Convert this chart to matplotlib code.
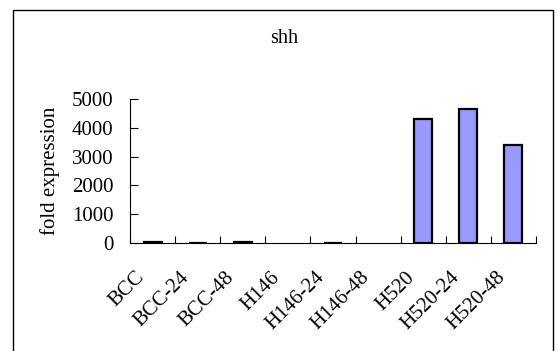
import matplotlib.pyplot as plt
from matplotlib.patches import Rectangle
from matplotlib.transforms import ScaledTranslation
import numpy as np

samples = ['BCC', 'BCC-24', 'BCC-48', 'H146', 'H146-24', 'H146-48',
           'H520', 'H520-24', 'H520-48']
fold = [18, 15, 20, 0, 12, 0, 4300, 4650, 3410]

plt.rcParams['font.family'] = ['Liberation Serif', 'DejaVu Serif']

fig = plt.figure(figsize=(5.57, 3.51), dpi=100)
ax = fig.add_axes([130 / 557, 1 - 243 / 351, 406 / 557, 144 / 351])

# outer chart frame (bottom runs off the picture)
fig.patches.append(Rectangle((13 / 557, -0.1), 540 / 557, 1 - 10 / 351 + 0.1,
                             transform=fig.transFigure, fill=False,
                             edgecolor='black', linewidth=1.0))

x = np.arange(len(samples))
edges = ['black' if v > 0 else 'none' for v in fold]
ax.bar(x, fold, width=0.4, color='#9999ff', edgecolor=edges, linewidth=1.6)

ax.set_xlim(-0.5, len(samples) - 0.5)
ax.set_ylim(0, 5000)
ax.set_yticks([0, 1000, 2000, 3000, 4000, 5000])
ax.tick_params(axis='y', direction='in', length=6, width=0.8, labelsize=15, pad=12)

ax.set_xticks(x)
ax.set_xticklabels(samples, rotation=45, ha='right', va='top',
                   rotation_mode='anchor', fontsize=15)
ax.tick_params(axis='x', which='major', length=0, pad=0)
shift = ScaledTranslation(-18 / 100, -25 / 100, fig.dpi_scale_trans)
for lbl in ax.get_xticklabels():
    lbl.set_transform(lbl.get_transform() + shift)
ax.set_xticks(np.arange(-0.5, len(samples), 1.0), minor=True)
ax.tick_params(axis='x', which='minor', direction='in', length=5, width=0.8)

for side in ['top', 'right']:
    ax.spines[side].set_visible(False)
for side in ['left', 'bottom']:
    ax.spines[side].set_linewidth(0.8)

fig.text(50 / 557, 1 - 171 / 351, 'fold expression', rotation=90,
         ha='center', va='center', fontsize=15)
fig.text(284 / 557, 1 - 43 / 351, 'shh', ha='center', va='baseline', fontsize=14.5)

fig.savefig('out.png', dpi=100)
